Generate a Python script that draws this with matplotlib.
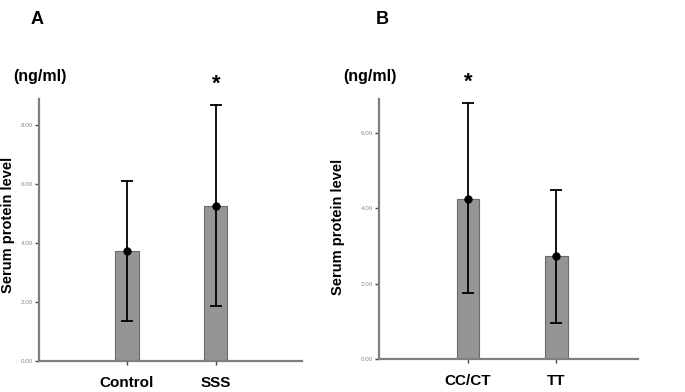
import numpy as np
import matplotlib.pyplot as plt

plt.rcParams['font.family'] = ['Liberation Sans', 'DejaVu Sans']

# panel A
cats_a = ['Control', 'SSS']
mean_a = [3.73, 5.25]
lo_a = [1.36, 1.86]
hi_a = [6.10, 8.68]

# panel B
cats_b = ['CC/CT', 'TT']
mean_b = [4.24, 2.73]
lo_b = [1.75, 0.95]
hi_b = [6.78, 4.48]

ticks_a = [0, 2, 4, 6, 8]
ticks_b = [0, 2, 4, 6]

W, H = 685, 392
fig = plt.figure(figsize=(6.85, 3.92), dpi=100)

grey = '#7f7f7f'


def panel(rect, cats, mean, lo, hi, ticks, ylim, xlim, star_idx):
    ax = fig.add_axes(rect)
    x = np.arange(len(cats))
    ax.bar(x, mean, width=0.26, color='#959595', edgecolor='#6a6a6a', linewidth=0.8, zorder=2)
    err = [np.array(mean) - np.array(lo), np.array(hi) - np.array(mean)]
    ax.errorbar(x, mean, yerr=err, fmt='o', color='black', ms=5, capsize=4,
                elinewidth=1.3, capthick=1.3, zorder=3)
    ax.set_ylim(0, ylim)
    ax.set_xlim(*xlim)
    ax.set_xticks(x)
    ax.set_xticklabels(cats, fontsize=11, fontweight='bold')
    ax.set_yticks(ticks)
    ax.set_yticklabels(['%.2f' % t for t in ticks], fontsize=4.5, color='#8a8a8a')
    ax.tick_params(axis='y', length=3, width=1, color='#444444', pad=1.5)
    ax.tick_params(axis='x', length=3, width=1, color='#444444', pad=8)
    for s in ['top', 'right']:
        ax.spines[s].set_visible(False)
    for s in ['left', 'bottom']:
        ax.spines[s].set_color(grey)
        ax.spines[s].set_linewidth(1.6)
    ax.text(x[star_idx], hi[star_idx] + (ylim * 0.04), '*', ha='center', va='bottom',
            fontsize=16, fontweight='bold', clip_on=False)
    return ax


panel([39 / W, 1 - 361 / H, (302 - 39) / W, (361 - 99) / H],
      cats_a, mean_a, lo_a, hi_a, ticks_a, 8.88, (-0.99, 1.97), 1)
panel([379 / W, 1 - 359 / H, (638 - 379) / W, (359 - 99) / H],
      cats_b, mean_b, lo_b, hi_b, ticks_b, 6.89, (-1.01, 1.93), 0)

fig.text(37 / W, 1 - 20 / H, 'A', fontsize=13, fontweight='bold', ha='center', va='center')
fig.text(382 / W, 1 - 20 / H, 'B', fontsize=13, fontweight='bold', ha='center', va='center')
fig.text(40 / W, 1 - 76 / H, '(ng/ml)', fontsize=11.5, fontweight='bold', ha='center', va='center')
fig.text(370 / W, 1 - 76 / H, '(ng/ml)', fontsize=11.5, fontweight='bold', ha='center', va='center')
fig.text(8 / W, 1 - 225 / H, 'Serum protein level', fontsize=10.5, fontweight='bold',
         rotation=90, ha='center', va='center')
fig.text(338 / W, 1 - 227 / H, 'Serum protein level', fontsize=10.5, fontweight='bold',
         rotation=90, ha='center', va='center')

fig.savefig('out.png', dpi=100)
